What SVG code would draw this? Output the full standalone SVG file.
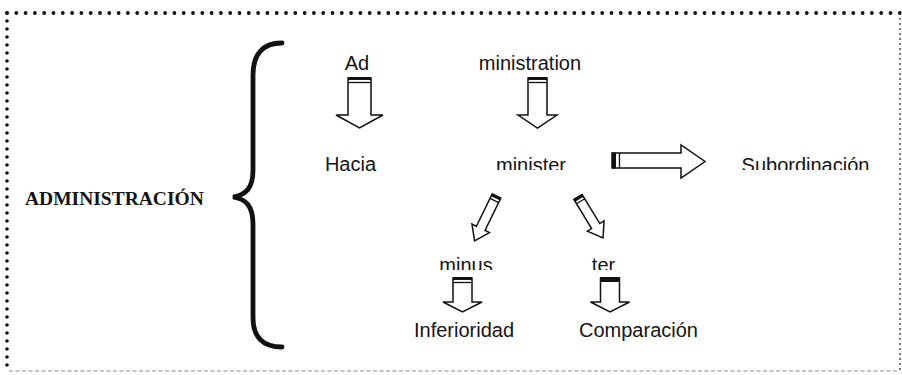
<svg xmlns="http://www.w3.org/2000/svg" width="902" height="375" viewBox="0 0 902 375">
<style>
.t{font-family:"Liberation Sans",Arial,sans-serif;font-size:20px;fill:#141414;text-anchor:middle}
.ts{font-family:"Liberation Serif","Times New Roman",serif;font-size:19.5px;font-weight:bold;fill:#141414}
.ar{fill:#fff;stroke:#111;stroke-width:1.5;stroke-linejoin:miter}
.cap{fill:#111}
.capl{stroke:#111;stroke-width:1.3}
</style>
<defs>
<clipPath id="c1" clipPathUnits="userSpaceOnUse"><rect x="0" y="0" width="902" height="170"/></clipPath>
<clipPath id="c2" clipPathUnits="userSpaceOnUse"><rect x="0" y="0" width="902" height="270"/></clipPath>
</defs>
<rect x="0" y="0" width="902" height="375" fill="#fff"/>
<g id="frame">
<line x1="7" y1="13" x2="900" y2="13" stroke="#111" stroke-width="3.8" stroke-linecap="round" stroke-dasharray="0 9.3"/>
<line x1="7" y1="13" x2="7" y2="372" stroke="#111" stroke-width="3.6" stroke-linecap="round" stroke-dasharray="0 8"/>
<line x1="900" y1="14" x2="900" y2="370" stroke="#333" stroke-width="1.8" stroke-linecap="round" stroke-dasharray="0 5"/>
<line x1="9" y1="371" x2="898" y2="371" stroke="#888" stroke-width="1" stroke-dasharray="4 2.5"/>
</g>
<g id="administracion">
<text class="ts" x="25" y="205">ADMINISTRACIÓN</text>
<path d="M282 43 C262 43 253 55 253 75 L253 170 C253 188 246 195 233 197 C246 199 253 206 253 224 L253 318 C253 336 262 347 282 347" fill="none" stroke="#111" stroke-width="4.8" stroke-linecap="round"/>
</g>
<g id="ad"><text class="t" x="357" y="69.5">Ad</text></g>
<g id="ministration"><text class="t" x="530" y="69.5">ministration</text></g>
<g id="hacia"><text class="t" x="350.5" y="171">Hacia</text></g>
<g id="minister"><text class="t" x="531" y="172" clip-path="url(#c1)">minister</text></g>
<g id="subordinacion"><text class="t" x="805.5" y="171.5" clip-path="url(#c1)">Subordinación</text></g>
<g id="minus"><text class="t" x="466" y="272" clip-path="url(#c2)">minus</text></g>
<g id="ter"><text class="t" x="603.5" y="272" clip-path="url(#c2)">ter</text></g>
<g id="inferioridad"><text class="t" x="464" y="337">Inferioridad</text></g>
<g id="comparacion"><text class="t" x="638.5" y="337">Comparación</text></g>
<g id="connectors">
<g>
<path class="ar" d="M348 78 L371 78 L371 115 L383 115 L359.5 128 L336 115 L348 115 Z"/>
<rect class="cap" x="348" y="77" width="23" height="3"/>
<line class="capl" x1="348" y1="82.5" x2="371" y2="82.5"/>
</g>
<g>
<path class="ar" d="M528 78 L547 78 L547 115 L557 115 L537.5 128 L518 115 L528 115 Z"/>
<rect class="cap" x="528" y="77" width="19" height="3"/>
<line class="capl" x1="528" y1="82.5" x2="547" y2="82.5"/>
</g>
<g>
<path class="ar" d="M612 153 L681 153 L681 145 L705 161.5 L681 178 L681 168 L612 168 Z"/>
<rect class="cap" x="612" y="152.5" width="4" height="16"/>
<line class="capl" x1="619.5" y1="153" x2="619.5" y2="168"/>
</g>
<g transform="translate(496.5,196) rotate(26)">
<path class="ar" d="M-4.8 0 L4.8 0 L4.8 36 L9.8 36 L0 50 L-9.8 36 L-4.8 36 Z"/>
<rect class="cap" x="-4.8" y="-0.5" width="9.6" height="3"/>
<line class="capl" x1="-4.8" y1="5" x2="4.8" y2="5"/>
</g>
<g transform="translate(578,197) rotate(-31.4)">
<path class="ar" d="M-4.8 0 L4.8 0 L4.8 34 L9.8 34 L0 48 L-9.8 34 L-4.8 34 Z"/>
<rect class="cap" x="-4.8" y="-0.5" width="9.6" height="3"/>
<line class="capl" x1="-4.8" y1="5" x2="4.8" y2="5"/>
</g>
<g>
<path class="ar" d="M453 278 L472 278 L472 302 L482 302 L462.5 312 L443 302 L453 302 Z"/>
<rect class="cap" x="453" y="277" width="19" height="3"/>
<line class="capl" x1="453" y1="282.5" x2="472" y2="282.5"/>
</g>
<g>
<path class="ar" d="M600.5 278 L619.5 278 L619.5 302 L629.5 302 L610 312 L590.5 302 L600.5 302 Z"/>
<rect class="cap" x="600.5" y="277" width="19" height="5"/>
</g>
</g>
</svg>
